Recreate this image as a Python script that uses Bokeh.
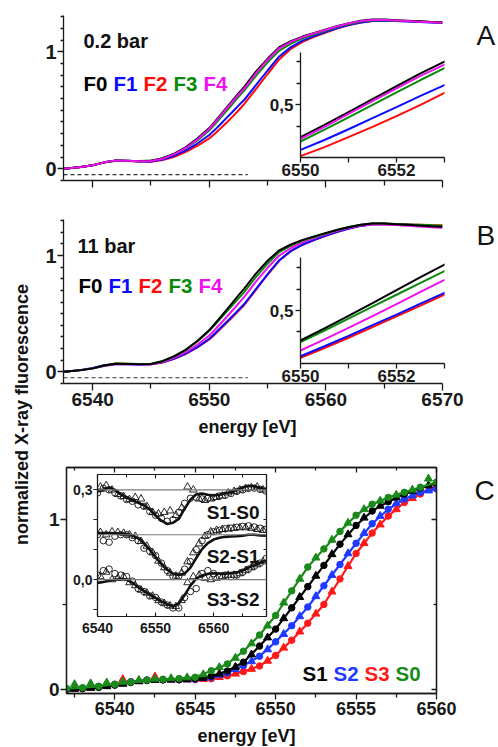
from bokeh.plotting import figure
from bokeh.models import FixedTicker, Range1d, Label, Span, LinearAxis
from bokeh.embed import file_html
from bokeh.resources import INLINE

FONT = "Liberation Sans"

# ---------------- data ----------------
E_AB = [6537.5, 6538, 6539, 6540, 6541, 6542, 6543, 6544, 6545, 6546, 6547, 6548, 6549,
        6550, 6550.5, 6551, 6551.5, 6552, 6552.5, 6553,
        6554, 6555, 6556, 6557, 6558, 6559, 6560, 6561, 6562, 6563, 6564, 6565, 6566, 6567, 6568, 6569, 6570]

A_F0 = [0.000, 0.005, 0.015, 0.030, 0.055, 0.070, 0.068, 0.065, 0.068, 0.090, 0.130, 0.185, 0.260,
        0.348, 0.405, 0.465, 0.525, 0.585, 0.645, 0.700,
        0.830, 0.940, 1.040, 1.090, 1.130, 1.160, 1.190, 1.220, 1.245, 1.265, 1.275, 1.275, 1.270, 1.265, 1.260, 1.255, 1.250]
A_F4 = [0.000, 0.005, 0.015, 0.030, 0.055, 0.070, 0.068, 0.065, 0.066, 0.086, 0.125, 0.178, 0.252,
        0.340, 0.396, 0.456, 0.516, 0.575, 0.633, 0.686,
        0.815, 0.930, 1.030, 1.085, 1.125, 1.158, 1.188, 1.218, 1.243, 1.262, 1.272, 1.272, 1.267, 1.262, 1.257, 1.252, 1.247]
A_F3 = [0.000, 0.005, 0.015, 0.030, 0.055, 0.068, 0.066, 0.066, 0.070, 0.090, 0.126, 0.176, 0.245,
        0.328, 0.383, 0.440, 0.498, 0.556, 0.614, 0.669,
        0.795, 0.910, 1.010, 1.070, 1.115, 1.150, 1.182, 1.213, 1.238, 1.258, 1.268, 1.270, 1.266, 1.262, 1.258, 1.254, 1.250]
A_F1 = [0.000, 0.005, 0.015, 0.030, 0.055, 0.070, 0.068, 0.063, 0.063, 0.080, 0.112, 0.158, 0.218,
        0.289, 0.335, 0.385, 0.437, 0.488, 0.540, 0.590,
        0.715, 0.840, 0.960, 1.040, 1.095, 1.135, 1.170, 1.203, 1.230, 1.250, 1.262, 1.265, 1.262, 1.258, 1.255, 1.250, 1.245]
A_F2 = [0.000, 0.005, 0.015, 0.030, 0.053, 0.068, 0.066, 0.062, 0.061, 0.075, 0.103, 0.145, 0.198,
        0.260, 0.302, 0.348, 0.396, 0.446, 0.498, 0.554,
        0.680, 0.810, 0.935, 1.025, 1.085, 1.128, 1.165, 1.200, 1.228, 1.250, 1.262, 1.265, 1.263, 1.260, 1.258, 1.255, 1.252]

B_F0 = [0.000, 0.005, 0.015, 0.030, 0.055, 0.070, 0.068, 0.065, 0.068, 0.092, 0.135, 0.192, 0.268,
        0.359, 0.416, 0.475, 0.535, 0.596, 0.657, 0.716,
        0.845, 0.955, 1.045, 1.095, 1.135, 1.165, 1.195, 1.222, 1.245, 1.265, 1.275, 1.275, 1.270, 1.265, 1.258, 1.252, 1.247]
B_F3 = [0.000, 0.005, 0.015, 0.030, 0.055, 0.072, 0.070, 0.067, 0.070, 0.093, 0.133, 0.188, 0.263,
        0.352, 0.406, 0.462, 0.518, 0.574, 0.630, 0.685,
        0.815, 0.930, 1.030, 1.085, 1.128, 1.160, 1.190, 1.220, 1.245, 1.265, 1.278, 1.278, 1.272, 1.268, 1.264, 1.260, 1.256]
B_F4 = [0.000, 0.005, 0.015, 0.028, 0.050, 0.065, 0.065, 0.063, 0.065, 0.085, 0.122, 0.170, 0.235,
        0.312, 0.364, 0.418, 0.474, 0.530, 0.587, 0.644,
        0.775, 0.895, 1.000, 1.065, 1.113, 1.150, 1.182, 1.212, 1.238, 1.258, 1.268, 1.268, 1.262, 1.256, 1.250, 1.244, 1.238]
B_F1 = [0.000, 0.005, 0.017, 0.033, 0.058, 0.068, 0.066, 0.064, 0.065, 0.082, 0.114, 0.158, 0.215,
        0.285, 0.332, 0.381, 0.431, 0.481, 0.532, 0.583,
        0.712, 0.840, 0.960, 1.040, 1.095, 1.135, 1.172, 1.205, 1.232, 1.255, 1.270, 1.272, 1.268, 1.264, 1.260, 1.256, 1.252]
B_F2 = [0.000, 0.005, 0.015, 0.030, 0.058, 0.072, 0.070, 0.066, 0.066, 0.081, 0.112, 0.155, 0.210,
        0.278, 0.324, 0.372, 0.422, 0.472, 0.523, 0.575,
        0.705, 0.835, 0.955, 1.038, 1.093, 1.133, 1.170, 1.205, 1.232, 1.255, 1.270, 1.272, 1.270, 1.268, 1.265, 1.262, 1.260]

BASE_X = [6537.5, 6553.3]
BASE_Y = [-0.05, -0.05]

E_C = [6537, 6538, 6539, 6540, 6541, 6542, 6543, 6544, 6545, 6546, 6547, 6548, 6549,
       6550, 6551, 6552, 6553, 6554, 6555, 6556, 6557, 6558, 6559, 6560]
E_C_HALF = [6537.5, 6538.5, 6539.5, 6540.5, 6541.5, 6542.5, 6543.5, 6544.5, 6545.5, 6546.5, 6547.5, 6548.5,
            6549.5, 6550.5, 6551.5, 6552.5, 6553.5, 6554.5, 6555.5, 6556.5, 6557.5, 6558.5, 6559.5]
C_S1 = [0.000, 0.005, 0.012, 0.025, 0.040, 0.052, 0.056, 0.058, 0.062, 0.078, 0.108, 0.160, 0.255,
        0.355, 0.480, 0.605, 0.730, 0.855, 0.965, 1.050, 1.105, 1.150, 1.185, 1.214]
C_S0 = [0.005, 0.010, 0.018, 0.030, 0.043, 0.055, 0.060, 0.064, 0.072, 0.110, 0.150, 0.225, 0.320,
        0.435, 0.580, 0.720, 0.827, 0.930, 1.025, 1.090, 1.130, 1.160, 1.190, 1.220]
C_S2 = [0.000, 0.008, 0.018, 0.030, 0.045, 0.055, 0.057, 0.057, 0.060, 0.072, 0.098, 0.140, 0.195,
        0.280, 0.375, 0.485, 0.610, 0.735, 0.860, 0.975, 1.060, 1.120, 1.160, 1.180]
C_S3 = [0.000, 0.005, 0.015, 0.030, 0.045, 0.055, 0.057, 0.057, 0.058, 0.063, 0.080, 0.105, 0.138,
        0.200, 0.290, 0.390, 0.500, 0.650, 0.800, 0.920, 1.020, 1.100, 1.150, 1.200]
C_S1_TRI = [0.003, 0.008, 0.018, 0.032, 0.047, 0.055, 0.057, 0.060, 0.068, 0.092, 0.132, 0.205, 0.305,
            0.418, 0.543, 0.668, 0.795, 0.912, 1.010, 1.080, 1.128, 1.168, 1.200]
C_S0_TRI = [0.030, 0.035, 0.040, 0.045, 0.055, 0.062, 0.065, 0.070, 0.088, 0.130, 0.185, 0.270, 0.375,
            0.510, 0.650, 0.775, 0.880, 0.980, 1.060, 1.110, 1.145, 1.175, 1.240]
C_S2_TRI = [0.004, 0.013, 0.024, 0.038, 0.050, 0.056, 0.057, 0.058, 0.066, 0.085, 0.118, 0.165, 0.235,
            0.325, 0.430, 0.548, 0.672, 0.800, 0.920, 1.020, 1.095, 1.140, 1.170]
C_S3_TRI = [0.003, 0.010, 0.022, 0.060, 0.050, 0.075, 0.057, 0.057, 0.060, 0.072, 0.092, 0.120, 0.168,
            0.245, 0.340, 0.445, 0.575, 0.725, 0.860, 0.970, 1.060, 1.125, 1.175]

E_D = [6540, 6541, 6542, 6543, 6544, 6545, 6546, 6547, 6548, 6549, 6550, 6551, 6552, 6553, 6554,
       6555, 6556, 6557, 6558, 6559, 6560, 6561, 6562, 6563, 6564, 6565, 6566, 6567, 6568, 6569]
E_D_HALF = [6540.5, 6541.5, 6542.5, 6543.5, 6544.5, 6545.5, 6546.5, 6547.5, 6548.5, 6549.5, 6550.5,
            6551.5, 6552.5, 6553.5, 6554.5, 6555.5, 6556.5, 6557.5, 6558.5, 6559.5, 6560.5, 6561.5,
            6562.5, 6563.5, 6564.5, 6565.5, 6566.5, 6567.5, 6568.5]
D_OFFSETS = [0.3, 0.15, 0.0]
D10_FIT = [0.295, 0.300, 0.308, 0.300, 0.285, 0.275, 0.265, 0.257, 0.248, 0.235, 0.214, 0.197, 0.186, 0.190,
           0.203, 0.237, 0.267, 0.285, 0.288, 0.284, 0.281, 0.284, 0.289, 0.292, 0.300, 0.308, 0.314, 0.312, 0.306, 0.302]
D10_CIRC = [0.290, 0.305, 0.300, 0.290, 0.280, 0.268, 0.262, 0.250, 0.245, 0.228, 0.215, 0.205, 0.195, 0.200,
            0.225, 0.255, 0.272, 0.275, 0.270, 0.272, 0.275, 0.280, 0.282, 0.288, 0.295, 0.300, 0.305, 0.306, 0.302, 0.296]
D10_TRI = [0.310, 0.315, 0.300, 0.285, 0.278, 0.268, 0.275, 0.270, 0.245, 0.225, 0.220, 0.225, 0.230, 0.215,
           0.240, 0.310, 0.300, 0.270, 0.265, 0.270, 0.275, 0.280, 0.290, 0.295, 0.300, 0.305, 0.308, 0.310, 0.300]
D21_FIT = [0.155, 0.156, 0.156, 0.155, 0.154, 0.152, 0.148, 0.138, 0.122, 0.100, 0.075, 0.052, 0.033, 0.020,
           0.015, 0.020, 0.040, 0.072, 0.102, 0.122, 0.134, 0.140, 0.143, 0.144, 0.145, 0.147, 0.150, 0.150, 0.148, 0.147]
D21_CIRC = [0.150, 0.130, 0.125, 0.145, 0.150, 0.150, 0.140, 0.130, 0.105, 0.095, 0.080, 0.055, 0.030, 0.010,
            0.012, 0.035, 0.060, 0.100, 0.130, 0.150, 0.160, 0.165, 0.170, 0.172, 0.175, 0.178, 0.180, 0.176, 0.172, 0.168]
D21_TRI = [0.158, 0.150, 0.160, 0.158, 0.155, 0.150, 0.145, 0.128, 0.112, 0.090, 0.062, 0.040, 0.022, 0.012,
           0.022, 0.060, 0.090, 0.120, 0.145, 0.160, 0.165, 0.168, 0.170, 0.172, 0.174, 0.174, 0.172, 0.168, 0.165]
D32_FIT = [-0.011, -0.008, -0.004, 0.000, 0.001, 0.000, -0.010, -0.025, -0.038, -0.050, -0.062, -0.073, -0.082,
           -0.090, -0.080, -0.052, -0.020, 0.003, 0.014, 0.019, 0.021, 0.020, 0.020, 0.022, 0.024, 0.030, 0.040,
           0.048, 0.056, 0.063]
D32_CIRC = [0.015, 0.030, 0.035, 0.020, 0.015, 0.010, -0.005, -0.030, -0.040, -0.055, -0.060, -0.075, -0.085,
            -0.095, -0.095, -0.060, -0.040, -0.030, 0.020, 0.030, 0.020, 0.010, 0.015, 0.010, 0.015, 0.025, 0.035,
            0.045, 0.055, 0.070]
D32_TRI = [0.010, 0.025, 0.000, 0.005, 0.010, -0.010, -0.020, -0.035, -0.045, -0.055, -0.070, -0.080, -0.088,
           -0.090, -0.070, -0.010, 0.010, 0.015, 0.005, 0.000, 0.005, 0.010, 0.015, 0.015, 0.020, 0.030, 0.040,
           0.050, 0.060]

F_NAMES = ["F0", "F1", "F2", "F3", "F4"]
F_COLORS = ["#000000", "#0a0aff", "#ff0a0a", "#0a8a0a", "#ee10ee"]
S_NAMES = ["S1", "S2", "S3", "S0"]
S_COLORS = ["#000000", "#1f3bff", "#ff1a1a", "#1a8a1a"]
D_NAMES = ["S1-S0", "S2-S1", "S3-S2"]

# ---------------- helpers ----------------
def make_fig(left, top, width, height, mbl, mbr, mbt, mbb, xr, yr):
    p = figure(width=width, height=height, x_range=Range1d(*xr), y_range=Range1d(*yr),
               toolbar_location=None, output_backend="svg", sizing_mode="fixed",
               min_border_left=mbl, min_border_right=mbr, min_border_top=mbt, min_border_bottom=mbb,
               background_fill_alpha=0, border_fill_alpha=0, outline_line_color=None,
               styles={"position": "absolute", "left": f"{left}px", "top": f"{top}px"})
    p.grid.visible = False
    return p


def style_axis(ax, size, tick_out=6, minor_out=3, tick_in=0, minor_in=0, width=1.3):
    ax.axis_line_width = width
    ax.axis_line_color = "#1a1a1a"
    ax.major_tick_line_width = width
    ax.minor_tick_line_width = width
    ax.major_tick_line_color = "#1a1a1a"
    ax.minor_tick_line_color = "#1a1a1a"
    ax.major_tick_out = tick_out
    ax.major_tick_in = tick_in
    ax.minor_tick_out = minor_out
    ax.minor_tick_in = minor_in
    ax.major_label_text_font = FONT
    ax.major_label_text_font_style = "bold"
    ax.major_label_text_font_size = f"{size}px"
    ax.major_label_text_color = "#1a1a1a"
    ax.major_label_standoff = 2


def hide_labels(ax):
    ax.major_label_text_color = None


def spectra(p, series, width=2.0):
    for ys, c in series:
        p.line(E_AB, ys, line_color=c, line_width=width)


A_ORDER = [(A_F2, F_COLORS[2]), (A_F1, F_COLORS[1]), (A_F3, F_COLORS[3]), (A_F0, F_COLORS[0]), (A_F4, F_COLORS[4])]
B_ORDER = [(B_F2, F_COLORS[2]), (B_F1, F_COLORS[1]), (B_F4, F_COLORS[4]), (B_F3, F_COLORS[3]), (B_F0, F_COLORS[0])]


def main_xas(top, frame_top, frame_bottom, series, height):
    p = make_fig(0, top, 470, height, 63, 28, frame_top - top, top + height - frame_bottom,
                 (6537.5, 6570), (-0.1, 1.31))
    spectra(p, series)
    p.line(BASE_X, BASE_Y, line_color="#333333", line_width=1.1, line_dash="4 3")
    style_axis(p.xaxis[0], 19, tick_out=7, minor_out=5)
    p.xaxis[0].ticker = FixedTicker(ticks=[6540, 6550, 6560, 6570], minor_ticks=[6545, 6555, 6565])
    style_axis(p.yaxis[0], 20, tick_out=6, minor_out=3)
    p.yaxis[0].ticker = FixedTicker(ticks=[0, 1], minor_ticks=[-0.1, 0.1, 0.2, 0.3, 0.4, 0.5, 0.6, 0.7, 0.8,
                                                               0.9, 1.1, 1.2, 1.3])
    p.yaxis[0].major_label_standoff = 1
    return p


def inset_xas(top, frame_top, frame_bottom, series, yr):
    p = make_fig(250, top, 204, 150, 50, 10, frame_top - top, top + 150 - frame_bottom,
                 (6550, 6553), yr)
    spectra(p, series)
    style_axis(p.xaxis[0], 17, tick_out=5, minor_out=5)
    p.xaxis[0].ticker = FixedTicker(ticks=[6550, 6552], minor_ticks=[6551, 6553])
    p.xaxis[0].major_label_standoff = 1
    style_axis(p.yaxis[0], 17, tick_out=5, minor_out=4)
    p.yaxis[0].ticker = FixedTicker(ticks=[0.5], minor_ticks=[0.4, 0.6, 0.7])
    p.yaxis[0].major_label_overrides = {0.5: "0,5"}
    return p


# ---------------- panels A and B ----------------
figA = main_xas(0, 15, 180, A_ORDER, 205)
hide_labels(figA.xaxis[0])
insA = inset_xas(30, 52, 157, A_ORDER, (0.2535, 0.742))
figB = main_xas(200, 219, 383, B_ORDER, 250)
insB = inset_xas(235, 257, 363, B_ORDER, (0.251, 0.749))

# ---------------- panel C ----------------
figC = make_fig(0, 450, 470, 297, 66, 34, 17, 54, (6537, 6560), (-0.024, 1.306))
figC.outline_line_color = "#1a1a1a"
figC.outline_line_width = 1.3
for ys, ytri, c in [(C_S3, C_S3_TRI, S_COLORS[2]), (C_S2, C_S2_TRI, S_COLORS[1]),
                    (C_S1, C_S1_TRI, S_COLORS[0]), (C_S0, C_S0_TRI, S_COLORS[3])]:
    figC.line(E_C, ys, line_color=c, line_width=2.2)
    figC.scatter(E_C, ys, marker="circle", size=6.5, color=c)
    figC.scatter(E_C_HALF, ytri, marker="triangle", size=8, color=c)

cx_ticks = FixedTicker(ticks=[6540, 6545, 6550, 6555, 6560], minor_ticks=[6537.5, 6542.5, 6547.5, 6552.5, 6557.5])
cy_ticks = FixedTicker(ticks=[0, 1], minor_ticks=[0.5])
style_axis(figC.xaxis[0], 18, tick_out=6, minor_out=4)
figC.xaxis[0].ticker = cx_ticks
style_axis(figC.yaxis[0], 19, tick_out=6, minor_out=4)
figC.yaxis[0].ticker = cy_ticks
figC.yaxis[0].major_label_standoff = 1
for tk, place in [(cx_ticks, "above"), (cy_ticks, "right")]:
    ax = LinearAxis(ticker=tk)
    style_axis(ax, 10, tick_out=0, minor_out=0, tick_in=5, minor_in=3)
    hide_labels(ax)
    figC.add_layout(ax, place)

# ---------------- inset C ----------------
insC = make_fig(40, 460, 236, 186, 57, 10, 14, 30, (6540, 6569.1), (-0.1235, 0.3515))
insC.background_fill_color = "white"
insC.background_fill_alpha = 1
insC.outline_line_color = "#1a1a1a"
insC.outline_line_width = 1.2
for off in D_OFFSETS:
    insC.add_layout(Span(location=off, dimension="width", line_color="#7a7a7a", line_width=1.2))
for fit, circ, tri in [(D10_FIT, D10_CIRC, D10_TRI), (D21_FIT, D21_CIRC, D21_TRI), (D32_FIT, D32_CIRC, D32_TRI)]:
    insC.scatter(E_D, circ, marker="circle", size=6.5, fill_color=None, line_color="#111111", line_width=0.9)
    insC.scatter(E_D_HALF, tri, marker="triangle", size=7.5, fill_color=None, line_color="#111111", line_width=0.9)
    insC.line(E_D, fit, line_color="#111111", line_width=2.6)

dx_ticks = FixedTicker(ticks=[6540, 6550, 6560], minor_ticks=[6545, 6555, 6565])
dy_ticks = FixedTicker(ticks=[0.0, 0.3], minor_ticks=[-0.1, 0.1, 0.2])
style_axis(insC.xaxis[0], 14, tick_out=0, minor_out=0, tick_in=4, minor_in=3, width=1.1)
insC.xaxis[0].ticker = dx_ticks
insC.xaxis[0].major_label_standoff = 6
style_axis(insC.yaxis[0], 14, tick_out=4, minor_out=4, width=1.1)
insC.yaxis[0].ticker = dy_ticks
insC.yaxis[0].major_label_overrides = {0: "0,0", 0.3: "0,3"}
insC.yaxis[0].major_label_standoff = 1
for tk, place in [(dx_ticks, "above"), (dy_ticks, "right")]:
    ax = LinearAxis(ticker=tk)
    style_axis(ax, 10, tick_out=0, minor_out=0, tick_in=4, minor_in=3, width=1.1)
    hide_labels(ax)
    insC.add_layout(ax, place)

# ---------------- texts (overlay, pixel-scaled ranges) ----------------
bg = figure(width=498, height=747, x_range=Range1d(0, 498), y_range=Range1d(747, 0),
            x_axis_type=None, y_axis_type=None, toolbar_location=None, output_backend="svg",
            min_border=0, min_border_left=0, min_border_right=0, min_border_top=0, min_border_bottom=0,
            sizing_mode="fixed", background_fill_alpha=0, border_fill_alpha=0,
            outline_line_color=None,
            styles={"position": "absolute", "left": "0px", "top": "0px"})
bg.grid.visible = False


def txt(x, yc, s, size, color="#111111", bold=True, align="left"):
    # yc is the vertical centre of the text line
    bg.add_layout(Label(x=x, y=yc, text=s, text_font=FONT, text_font_size=f"{size}px",
                        text_font_style="bold" if bold else "normal", text_color=color,
                        text_align=align, text_baseline="middle"))


txt(83, 40, "0.2 bar", 20)
txt(77, 245, "11 bar", 20)
for i, (n, c) in enumerate(zip(F_NAMES, F_COLORS)):
    txt(83 + 30 * i, 83, n, 20.5, c)
    txt(78 + 30 * i, 285, n, 20.5, c)
for i, (n, c) in enumerate(zip(S_NAMES, S_COLORS)):
    txt(302 + 31 * i, 673, n, 20.5, c)
for n, yc in zip(D_NAMES, [511.5, 555.5, 598.5]):
    txt(259, yc, n, 19, align="right")
txt(247, 426, "energy [eV]", 18, align="center")
txt(246, 735, "energy [eV]", 18, align="center")
bg.add_layout(Label(x=21, y=414, text="normalized X-ray fluorescence", text_font=FONT,
                    text_font_size="18px", text_font_style="bold", text_color="#111111",
                    text_align="center", text_baseline="middle", angle=90, angle_units="deg"))
txt(476, 35, "A", 28, bold=False)
txt(476, 235, "B", 28, bold=False)
txt(474, 490, "C", 28, bold=False)

roots = [figA, insA, figB, insB, figC, insC, bg]
open("out.html", "w").write(file_html(roots, INLINE))
